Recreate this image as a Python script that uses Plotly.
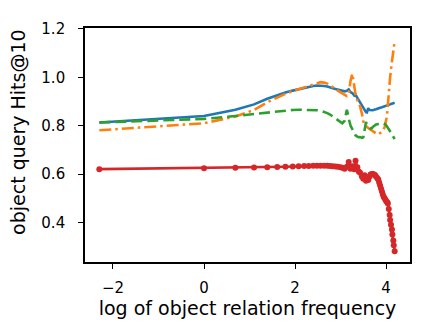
import plotly.graph_objects as go

# log of object relation frequency
x_vals = [-2.30, 0.00, 0.69, 1.10, 1.39, 1.61, 1.79, 1.95, 2.08, 2.20,
          2.30, 2.40, 2.48, 2.56, 2.64, 2.71, 2.77, 2.83, 2.89, 2.94,
          3.00, 3.04, 3.09, 3.14, 3.18, 3.22, 3.26, 3.30, 3.33, 3.37,
          3.40, 3.43, 3.47, 3.50, 3.53, 3.56, 3.58, 3.61, 3.64, 3.66,
          3.69, 3.71, 3.74, 3.76, 3.78, 3.81, 3.83, 3.85, 3.87, 3.89,
          3.91, 3.93, 3.95, 3.97, 3.99, 4.01, 4.03, 4.04, 4.06, 4.08,
          4.09, 4.11, 4.13, 4.14, 4.16, 4.17, 4.19]

blue_vals = [0.813, 0.840, 0.866, 0.888, 0.911, 0.926, 0.937, 0.945, 0.951, 0.956,
             0.960, 0.964, 0.966, 0.966, 0.964, 0.962, 0.960, 0.955, 0.952, 0.950,
             0.947, 0.944, 0.942, 0.944, 0.950, 0.938, 0.935, 0.925, 0.928, 0.915,
             0.905, 0.897, 0.882, 0.870, 0.862, 0.856, 0.855, 0.872, 0.865, 0.864,
             0.864, 0.864, 0.866, 0.866, 0.868, 0.870, 0.872, 0.873, 0.874, 0.875,
             0.876, 0.877, 0.878, 0.880, 0.881, 0.882, 0.884, 0.885, 0.886, 0.887,
             0.888, 0.890, 0.891, 0.892, 0.893, 0.894, 0.895]

orange_vals = [0.781, 0.810, 0.838, 0.865, 0.897, 0.918, 0.932, 0.943, 0.951, 0.960,
               0.967, 0.973, 0.977, 0.980, 0.978, 0.974, 0.966, 0.960, 0.952, 0.945,
               0.938, 0.935, 0.928, 0.922, 0.930, 0.985, 1.015, 0.955, 0.930, 0.905,
               0.890, 0.880, 0.850, 0.818, 0.805, 0.797, 0.795, 0.790, 0.786, 0.782,
               0.778, 0.775, 0.772, 0.769, 0.767, 0.764, 0.764, 0.766, 0.768, 0.772,
               0.776, 0.780, 0.785, 0.795, 0.810, 0.830, 0.860, 0.890, 0.930, 0.970,
               1.000, 1.035, 1.065, 1.090, 1.115, 1.135, 1.150]

green_vals = [0.813, 0.828, 0.840, 0.848, 0.855, 0.860, 0.863, 0.865, 0.866, 0.866,
              0.866, 0.865, 0.864, 0.862, 0.858, 0.852, 0.846, 0.838, 0.830, 0.823,
              0.816, 0.810, 0.820, 0.866, 0.830, 0.800, 0.785, 0.770, 0.760, 0.755,
              0.752, 0.753, 0.750, 0.752, 0.780, 0.815, 0.805, 0.795, 0.790, 0.788,
              0.790, 0.795, 0.800, 0.803, 0.805, 0.806, 0.806, 0.806, 0.805, 0.805,
              0.806, 0.808, 0.809, 0.808, 0.805, 0.800, 0.795, 0.790, 0.785, 0.780,
              0.775, 0.770, 0.765, 0.760, 0.755, 0.750, 0.745]

red_vals = [0.620, 0.624, 0.626, 0.627, 0.628, 0.629, 0.630, 0.631, 0.632, 0.633,
            0.633, 0.634, 0.634, 0.634, 0.634, 0.634, 0.633, 0.632, 0.631, 0.630,
            0.628, 0.626, 0.622, 0.630, 0.650, 0.622, 0.632, 0.620, 0.655, 0.628,
            0.610, 0.605, 0.590, 0.580, 0.595, 0.572, 0.585, 0.575, 0.590, 0.598,
            0.600, 0.600, 0.598, 0.595, 0.590, 0.582, 0.577, 0.565, 0.552, 0.540,
            0.528, 0.515, 0.505, 0.500, 0.492, 0.486, 0.482, 0.478, 0.455, 0.430,
            0.410, 0.390, 0.370, 0.350, 0.325, 0.305, 0.280]

x_ticks = [-2, 0, 2, 4]
y_ticks = [0.4, 0.6, 0.8, 1.0, 1.2]

fig = go.Figure()
fig.add_trace(go.Scatter(x=x_vals, y=blue_vals, mode="lines",
                         line=dict(color="#1f77b4", width=2.6)))
fig.add_trace(go.Scatter(x=x_vals, y=orange_vals, mode="lines",
                         line=dict(color="#ff7f0e", width=2.6, dash="12px,4px,2.5px,4px")))
fig.add_trace(go.Scatter(x=x_vals, y=green_vals, mode="lines",
                         line=dict(color="#2ca02c", width=2.6, dash="11px,5px")))
fig.add_trace(go.Scatter(x=x_vals, y=red_vals, mode="lines+markers",
                         line=dict(color="#d62728", width=2.6),
                         marker=dict(color="#d62728", size=6)))

axis_style = dict(showgrid=False, zeroline=False, showline=True, mirror=True,
                  linecolor="black", linewidth=1.6,
                  ticks="outside", ticklen=5, tickwidth=1.3, tickcolor="black",
                  tickfont=dict(family="DejaVu Sans", size=15, color="black"))

fig.update_xaxes(range=[-2.615, 4.527], tickvals=x_ticks, ticklabelstandoff=6,
                 title=dict(text="log of object relation frequency", standoff=6,
                            font=dict(family="DejaVu Sans", size=19, color="black")),
                 **axis_style)
fig.update_yaxes(range=[0.236, 1.204], tickvals=y_ticks, tickformat=".1f",
                 ticklabelstandoff=10, **axis_style)

# y label sits a little above the axis centre, as in the original
fig.add_annotation(text="object query Hits@10", textangle=-90,
                   xref="paper", yref="paper", x=-0.206, y=0.556,
                   xanchor="center", yanchor="middle", showarrow=False,
                   font=dict(family="DejaVu Sans", size=19, color="black"))

# the page body adds an 8px offset, so the margins are shifted to compensate
fig.update_layout(width=423, height=335, showlegend=False,
                  margin=dict(l=77, r=21, t=13, b=81),
                  paper_bgcolor="white", plot_bgcolor="white")

fig.write_html("out.html")
